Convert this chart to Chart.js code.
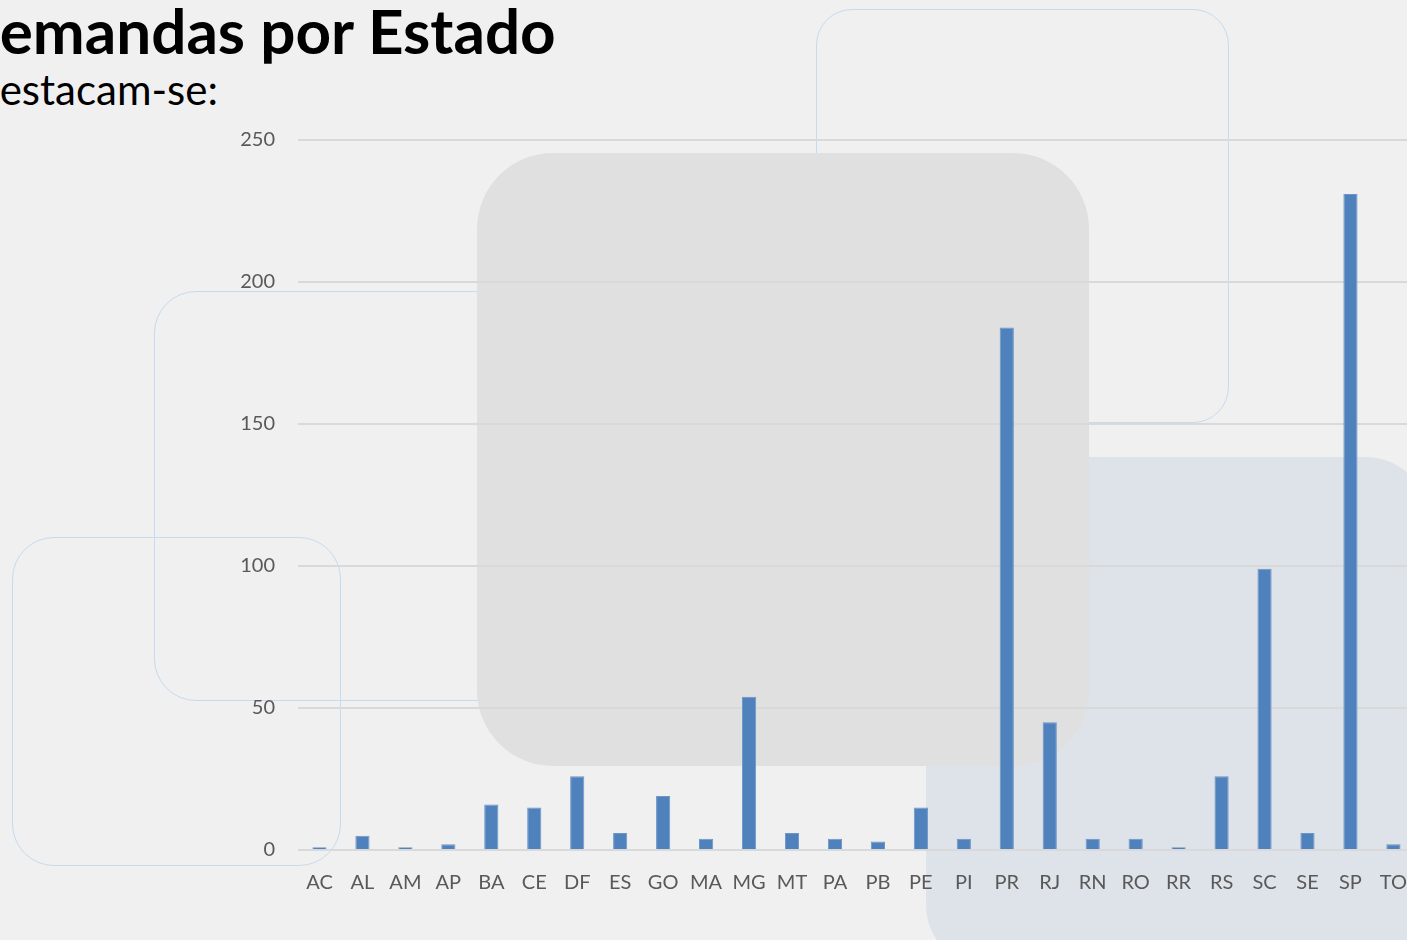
<!DOCTYPE html>
<html lang="pt">
<head>
  <meta charset="UTF-8" />
  <title>Demandas por Estado</title>
  <script src="https://cdn.jsdelivr.net/npm/chart.js"></script>
  <style>
    html, body {
      margin: 0;
      width: 1407px;
      height: 940px;
      overflow: hidden;
      background: #f0f0f0;
      font-family: Lato, "Open Sans", sans-serif;
    }
    .deco { position: absolute; box-sizing: border-box; }
    .outline { border: 1.5px solid #c5dbef; }
    #rectA { left: 12px; top: 537px; width: 329px; height: 329px; border-radius: 42px; }
    #rectB { left: 154px; top: 291px; width: 420px; height: 410px; border-radius: 42px; }
    #rectC { left: 816px; top: 9px; width: 413px; height: 414px; border-radius: 36px; }
    #blockBlue { left: 926px; top: 457px; width: 502px; height: 510px; border-radius: 62px; background: #dee2e9; }
    #blockGray { left: 477px; top: 153px; width: 612px; height: 613px; border-radius: 76px; background: #e0e0e0; }
    h1, h2 {
      position: absolute;
      margin: 0;
      white-space: nowrap;
      color: #000;
    }
    h1 { top: -7px; font-size: 62px; font-weight: 700; }
    h2 { top: 64px; font-size: 42px; font-weight: 400; }
    .chart-box {
      position: absolute;
      left: 0;
      top: 0;
      width: 1428px;
      height: 940px;
    }
  </style>
</head>
<body>
  <div class="deco outline" id="rectA"></div>
  <div class="deco outline" id="rectB"></div>
  <div class="deco outline" id="rectC"></div>
  <div class="deco" id="blockBlue"></div>
  <div class="deco" id="blockGray"></div>

  <h1 id="title"><span class="cut">D</span>emandas por Estado</h1>
  <h2 id="subtitle"><span class="cut">D</span>estacam-se:</h2>

  <div class="chart-box"><canvas id="chart"></canvas></div>

  <script>
    // dados
    const estados = ['AC', 'AL', 'AM', 'AP', 'BA', 'CE', 'DF', 'ES', 'GO', 'MA', 'MG', 'MT', 'PA', 'PB',
      'PE', 'PI', 'PR', 'RJ', 'RN', 'RO', 'RR', 'RS', 'SC', 'SE', 'SP', 'TO'];
    const demandas = [1, 5, 1, 2, 16, 15, 26, 6, 19, 4, 54, 6, 4, 3,
      15, 4, 184, 45, 4, 4, 1, 26, 99, 6, 231, 2];
    const yTicks = [0, 50, 100, 150, 200, 250];

    // the first letter of each heading sits off the left edge, like the slide
    ['title', 'subtitle'].forEach(id => {
      const el = document.getElementById(id);
      el.style.left = -el.querySelector('.cut').offsetWidth + 'px';
    });

    const labelColor = '#595959';
    const labelFont = { family: 'Lato, "Open Sans", sans-serif', size: 20 };

    new Chart(document.getElementById('chart'), {
      type: 'bar',
      data: {
        labels: estados,
        datasets: [{
          label: 'Demandas',
          data: demandas,
          backgroundColor: '#4f81bd',
          borderColor: '#6d95c8',
          borderWidth: 1,
          categoryPercentage: 1,
          barPercentage: 0.33
        }]
      },
      options: {
        responsive: true,
        maintainAspectRatio: false,
        animation: false,
        layout: { padding: { top: 140, right: 0, bottom: 0, left: 0 } },
        plugins: {
          legend: { display: false },
          tooltip: { enabled: false }
        },
        scales: {
          x: {
            grid: { display: false, drawTicks: false },
            border: { display: false },
            ticks: {
              color: labelColor,
              font: labelFont,
              padding: 21,
              autoSkip: false,
              maxRotation: 0
            },
            afterFit: s => { s.height = 90; }
          },
          y: {
            min: 0,
            max: yTicks[yTicks.length - 1],
            afterBuildTicks: s => { s.ticks = yTicks.map(v => ({ value: v })); },
            grid: { color: '#d9d9d9', lineWidth: 2, drawTicks: false },
            border: { display: false },
            ticks: { color: labelColor, font: labelFont, padding: 23 },
            afterFit: s => { s.width = 298; }
          }
        }
      }
    });
  </script>
</body>
</html>
